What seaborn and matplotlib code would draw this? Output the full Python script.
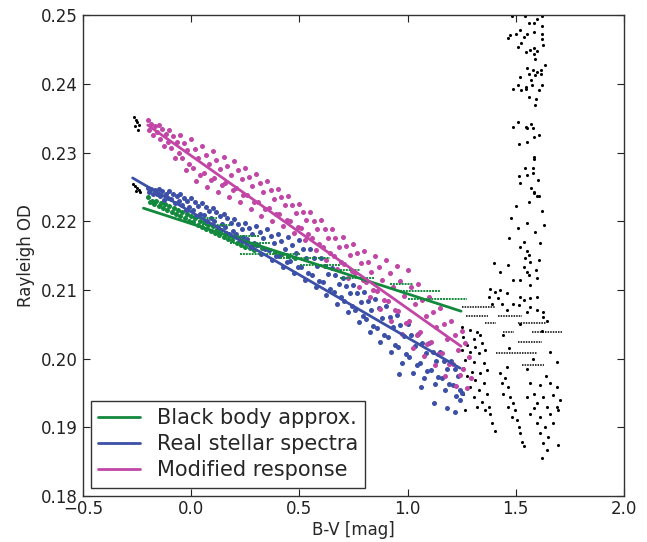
import matplotlib
matplotlib.use("Agg")
import matplotlib.pyplot as plt
import seaborn as sns

# ---- fitted lines (end points) ----
bb_line_x = [-0.22, 1.247]
bb_line_y = [0.2219, 0.2069]
real_line_x = [-0.27, 1.243]
real_line_y = [0.2263, 0.1986]
mod_line_x = [-0.20, 1.247]
mod_line_y = [0.2340, 0.2018]

# ---- x positions shared by the two broad bands ----
band_x = [
    -0.200, -0.192, -0.183, -0.175, -0.167, -0.158,
    -0.150, -0.142, -0.133, -0.125, -0.117, -0.108,
    -0.100, -0.092, -0.083, -0.075, -0.067, -0.058,
    -0.050, -0.042, -0.033, -0.025, -0.017, -0.008,
    0.000, 0.008, 0.017, 0.025, 0.033, 0.042,
    0.050, 0.058, 0.067, 0.075, 0.083, 0.092,
    0.100, 0.108, 0.117, 0.125, 0.133, 0.142,
    0.150, 0.158, 0.167, 0.175, 0.183, 0.192,
    0.200, 0.208, 0.217, 0.225, 0.233, 0.242,
    0.250, 0.258, 0.267, 0.275, 0.283, 0.292,
    0.300, 0.308, 0.317, 0.325, 0.333, 0.342,
    0.350, 0.358, 0.367, 0.375, 0.383, 0.392,
    0.400, 0.408, 0.417, 0.425, 0.433, 0.442,
    0.450, 0.458, 0.467, 0.475, 0.483, 0.492,
    0.500, 0.508, 0.517, 0.525, 0.533, 0.542,
    0.550, 0.558, 0.567, 0.575, 0.583, 0.592,
    0.600, 0.608, 0.617, 0.625, 0.633, 0.642,
    0.650, 0.658, 0.667, 0.675, 0.683, 0.692,
    0.700, 0.708, 0.717, 0.725, 0.733, 0.742,
    0.750, 0.758, 0.767, 0.775, 0.783, 0.792,
    0.800, 0.808, 0.817, 0.825, 0.833, 0.842,
    0.850, 0.858, 0.867, 0.875, 0.883, 0.892,
    0.900, 0.908, 0.917, 0.925, 0.933, 0.942,
    0.950, 0.958, 0.967, 0.975, 0.983, 0.992,
    1.000, 1.008, 1.017, 1.025, 1.033, 1.042,
    1.050, 1.058, 1.067, 1.075, 1.083, 1.092,
    1.100, 1.108, 1.117, 1.125, 1.133, 1.142,
    1.150, 1.158, 1.167, 1.175, 1.183, 1.192,
    1.200, 1.208, 1.217, 1.225, 1.233, 1.242,
    1.250, 1.258, 1.267, 1.275, 1.283, 1.292,
]

# Modified response points
mod_y = [
    .2347, .2333, .2342, .2326, .2338, .2330,
    .2340, .2320, .2334, .2310, .2327, .2315,
    .2333, .2306, .2324, .2292, .2315, .2299,
    .2325, .2292, .2314, .2275, .2303, .2283,
    .2319, .2278, .2305, .2258, .2292, .2268,
    .2310, .2270, .2297, .2250, .2283, .2260,
    .2302, .2263, .2289, .2243, .2276, .2253,
    .2294, .2255, .2281, .2235, .2268, .2245,
    .2287, .2248, .2274, .2228, .2261, .2238,
    .2278, .2238, .2265, .2218, .2251, .2228,
    .2269, .2228, .2255, .2208, .2242, .2218,
    .2258, .2219, .2245, .2200, .2232, .2210,
    .2247, .2211, .2235, .2193, .2223, .2202,
    .2236, .2201, .2224, .2183, .2212, .2192,
    .2225, .2190, .2214, .2173, .2202, .2182,
    .2213, .2176, .2201, .2158, .2189, .2167,
    .2202, .2163, .2189, .2143, .2176, .2153,
    .2189, .2150, .2176, .2131, .2163, .2141,
    .2177, .2138, .2164, .2118, .2151, .2128,
    .2167, .2125, .2153, .2104, .2139, .2114,
    .2156, .2111, .2141, .2089, .2126, .2100,
    .2150, .2098, .2133, .2072, .2115, .2085,
    .2143, .2084, .2124, .2055, .2104, .2070,
    .2135, .2069, .2113, .2036, .2091, .2052,
    .2129, .2054, .2104, .2016, .2079, .2035,
    .2109, .2039, .2086, .2004, .2062, .2021,
    .2090, .2024, .2068, .1991, .2046, .2007,
    .2073, .2008, .2051, .1975, .2029, .1992,
    .2055, .1992, .2034, .1960, .2013, .1976,
    .2040, .1985, .2022, .1957, .2003, .1971,
]

# Real stellar spectra points
real_extra_x = [1.12, 1.18, 1.22, 0.96, 1.06, 1.24, 1.25]
real_extra_y = [.1935, .1928, .1922, .1978, .1958, .1940, .1950]
real_y = [
    .2249, .2242, .2247, .2239, .2245, .2240,
    .2247, .2236, .2244, .2231, .2240, .2234,
    .2244, .2232, .2240, .2226, .2236, .2229,
    .2239, .2224, .2234, .2216, .2229, .2220,
    .2234, .2216, .2228, .2207, .2222, .2211,
    .2227, .2209, .2221, .2200, .2215, .2204,
    .2219, .2201, .2213, .2192, .2207, .2196,
    .2210, .2191, .2204, .2182, .2198, .2186,
    .2203, .2182, .2196, .2172, .2189, .2177,
    .2198, .2174, .2190, .2162, .2182, .2168,
    .2193, .2166, .2184, .2152, .2175, .2159,
    .2188, .2158, .2178, .2143, .2168, .2150,
    .2182, .2149, .2171, .2133, .2160, .2141,
    .2177, .2142, .2165, .2124, .2153, .2133,
    .2172, .2134, .2159, .2115, .2147, .2125,
    .2159, .2122, .2147, .2104, .2135, .2113,
    .2147, .2111, .2135, .2093, .2123, .2102,
    .2132, .2097, .2121, .2080, .2109, .2089,
    .2117, .2084, .2106, .2068, .2095, .2076,
    .2107, .2071, .2095, .2053, .2083, .2062,
    .2097, .2058, .2084, .2038, .2071, .2048,
    .2087, .2045, .2073, .2024, .2059, .2034,
    .2076, .2031, .2061, .2009, .2046, .2020,
    .2064, .2017, .2049, .1994, .2033, .2006,
    .2051, .2003, .2035, .1979, .2019, .1991,
    .2036, .1993, .2022, .1972, .2008, .1982,
    .2022, .1983, .2009, .1963, .1996, .1973,
    .2009, .1972, .1997, .1954, .1985, .1963,
    .1997, .1962, .1985, .1945, .1974, .1954,
]

# Black body approx. points
bb_x = [-0.20, -0.18, -0.16, -0.14, -0.12, -0.10, -0.08, -0.06, -0.04, -0.02,
        0.00, 0.02, 0.04, 0.06, 0.08, 0.10, 0.12, 0.14, 0.16, 0.18, 0.20, 0.22,
        0.24, 0.26, 0.28, 0.30, 0.33, 0.36, 0.39, 0.42, 0.45, 0.48,
        -0.19, -0.17, -0.15, -0.13, -0.11, -0.09, -0.07, -0.05, -0.03, -0.01,
        0.01, 0.03, 0.05, 0.07, 0.09, 0.11, 0.13, 0.15, 0.17, 0.19, 0.21, 0.23,
        0.25, 0.27, 0.29]
bb_y = [.2235, .2230, .2230, .2226, .2225, .2222, .2219, .2217, .2213, .2211,
        .2207, .2205, .2201, .2199, .2195, .2193, .2189, .2187, .2183, .2180,
        .2178, .2175, .2172, .2170, .2166, .2165, .2161, .2158, .2155, .2152,
        .2149, .2146,
        .2228, .2225, .2222, .2219, .2216, .2213, .2211, .2208, .2205, .2201,
        .2199, .2195, .2192, .2189, .2186, .2183, .2180, .2177, .2174, .2172,
        .2169, .2166, .2163, .2161, .2158]
# horizontal runs of green points: level, start, end
bb_run_y = [.2204, .2195, .21784, .21682, .21522, .21463, .21362, .21289,
            .21172, .21085, .20983, .20867]
bb_run_x0 = [0.02, 0.05, 0.157, 0.18, 0.226, 0.411, 0.504, 0.689, 0.689,
             0.92, 0.966, 1.0]
bb_run_x1 = [0.12, 0.18, 0.319, 0.365, 0.504, 0.642, 0.689, 0.781, 0.85,
             1.026, 1.15, 1.275]

# Stars outside the fitted range (black)
other_x = [
    -0.265, -0.255, -0.250, -0.240, -0.260, -0.245, -0.270, -0.260, -0.250, -0.240, -0.255, -0.235,
    1.482, 1.543, 1.620, 1.559, 1.582, 1.600, 1.620, 1.520, 1.502, 1.474, 1.466, 1.536, 1.554,
    1.585, 1.623, 1.623, 1.628, 1.523, 1.508, 1.548, 1.567, 1.582, 1.597, 1.586, 1.591,
    1.633, 1.554, 1.579, 1.597, 1.617, 1.617, 1.559, 1.590, 1.520, 1.571, 1.508, 1.487,
    1.523, 1.545, 1.548, 1.574, 1.620, 1.607, 1.563, 1.594, 1.591,
    1.508, 1.489, 1.547, 1.551, 1.571, 1.579, 1.605, 1.582, 1.554, 1.517, 1.585, 1.585,
    1.543, 1.579, 1.579, 1.554, 1.517, 1.604, 1.520, 1.571, 1.582, 1.586, 1.598, 1.605,
    1.56, 1.50, 1.62, 1.48, 1.55, 1.63, 1.51, 1.59, 1.47, 1.54, 1.61, 1.52,
    1.551, 1.559, 1.543, 1.567, 1.605, 1.400, 1.466, 1.425, 1.536, 1.551, 1.563, 1.594,
    1.600, 1.520, 1.567, 1.489,
    1.382, 1.405, 1.428, 1.459, 1.374, 1.420, 1.520, 1.536, 1.567, 1.598, 1.489, 1.390,
    1.436, 1.567, 1.598, 1.628, 1.459, 1.513, 1.551, 1.628, 1.644,
    1.251, 1.289, 1.320, 1.258, 1.305, 1.336, 1.274, 1.312, 1.343, 1.251, 1.289, 1.328,
    1.359, 1.266, 1.305, 1.351, 1.258, 1.297, 1.336, 1.366, 1.274, 1.312, 1.351, 1.289,
    1.328, 1.366, 1.258, 1.305, 1.343, 1.374, 1.320, 1.359, 1.382, 1.390, 1.405, 1.266,
    1.428, 1.451, 1.436, 1.466, 1.443, 1.474, 1.489, 1.466, 1.497, 1.482, 1.505, 1.513,
    1.520, 1.528, 1.536, 1.459,
    1.567, 1.613, 1.659, 1.690, 1.582, 1.628, 1.674, 1.705, 1.598, 1.644, 1.690, 1.567,
    1.613, 1.659, 1.697, 1.598, 1.636, 1.674, 1.613, 1.651, 1.628, 1.644, 1.621, 1.697,
    1.551, 1.582,
    1.44, 1.52, 1.62, 1.66, 1.58, 1.47, 1.69, 1.55, 1.64,
]
other_y = [
    .2352, .2348, .2344, .2340, .2338, .2333, .2254, .2251, .2249, .2246, .2244, .2243,
    .2499, .2499, .2499, .2488, .2488, .2494, .2484, .2478, .2473, .2471, .2467, .2468, .2473,
    .2475, .2473, .2466, .2456, .2459, .2453, .2446, .2450, .2452, .2448, .2443, .2436,
    .2427, .2423, .2420, .2417, .2420, .2415, .2415, .2413, .2410, .2406, .2398, .2392,
    .2391, .2393, .2395, .2398, .2399, .2391, .2381, .2378, .2369,
    .2345, .2337, .2337, .2335, .2342, .2336, .2326, .2322, .2316, .2312, .2294, .2290,
    .2277, .2277, .2270, .2267, .2266, .2260, .2256, .2248, .2243, .2241, .2236, .2236,
    .2228, .2222, .2215, .2205, .2198, .2195, .2190, .2185, .2176, .2170, .2168, .2162,
    .2156, .2151, .2146, .2141, .2143, .2139, .2136, .2126, .2134, .2126, .2122, .2129,
    .2117, .2114, .2107, .2114,
    .2102, .2097, .2100, .2095, .2090, .2088, .2090, .2085, .2088, .2090, .2080, .2080,
    .2080, .2075, .2071, .2068, .2071, .2078, .2068, .2061, .2054,
    .2046, .2042, .2039, .2032, .2029, .2034, .2020, .2017, .2022, .2012, .2010, .2008,
    .2012, .1998, .1995, .1993, .1986, .1981, .1979, .1983, .1974, .1969, .1964, .1959,
    .1954, .1949, .1949, .1944, .1937, .1930, .1930, .1925, .1920, .1906, .1894, .1925,
    .1979, .1971, .1964, .1959, .1949, .1944, .1935, .1930, .1925, .1915, .1911, .1901,
    .1891, .1879, .1872, .1988,
    .1964, .1962, .1964, .1959, .1949, .1944, .1947, .1940, .1935, .1930, .1930, .1920,
    .1915, .1920, .1925, .1906, .1901, .1906, .1891, .1886, .1877, .1867, .1855, .1874,
    .1944, .1928,
    .2035, .2050, .2040, .2010, .2000, .2015, .1995, .1985, .1975,
]
# horizontal runs of black points: level, start, end
other_run_y = [.20746, .20624, .20624, .20522, .20522, .20391, .20391, .20245, .20085, .19906]
other_run_x0 = [1.25, 1.27, 1.42, 1.36, 1.51, 1.44, 1.575, 1.51, 1.41, 1.53]
other_run_x1 = [1.405, 1.37, 1.53, 1.41, 1.64, 1.49, 1.715, 1.62, 1.60, 1.63]

green = "#12893c"
blue = "#3b50a6"
magenta = "#c146a5"

sns.set_style("ticks")
plt.rcParams["font.family"] = ["DejaVu Sans"]

fig, ax = plt.subplots(figsize=(6.47, 5.42), dpi=100)
fig.subplots_adjust(left=0.128, right=0.9645, bottom=0.085, top=0.972)

dot = dict(s=13, linewidth=0, legend=False, ax=ax)
sns.scatterplot(x=other_x, y=other_y, color="black", s=5, linewidth=0, legend=False, ax=ax)
ax.hlines(other_run_y, other_run_x0, other_run_x1, color="black", lw=1.1,
          linestyles=(0, (1, 0.7)))
sns.scatterplot(x=bb_x, y=bb_y, color=green, **dot)
ax.hlines(bb_run_y, bb_run_x0, bb_run_x1, color=green, lw=1.4,
          linestyles=(0, (1, 0.5)))
sns.scatterplot(x=band_x[:len(real_y)] + real_extra_x, y=real_y + real_extra_y,
                color=blue, **dot)
sns.scatterplot(x=band_x, y=mod_y, color=magenta, **dot)

sns.lineplot(x=bb_line_x, y=bb_line_y, color=green, lw=2, label="Black body approx.", ax=ax)
sns.lineplot(x=real_line_x, y=real_line_y, color=blue, lw=2, label="Real stellar spectra", ax=ax)
sns.lineplot(x=mod_line_x, y=mod_line_y, color=magenta, lw=2, label="Modified response", ax=ax)

ax.set_xlim(-0.5, 2.0)
ax.set_ylim(0.18, 0.25)
ax.set_xticks([-0.5, 0.0, 0.5, 1.0, 1.5, 2.0])
ax.set_xticklabels(["\u22120.5", "0.0", "0.5", "1.0", "1.5", "2.0"])
yt = [0.18, 0.19, 0.20, 0.21, 0.22, 0.23, 0.24, 0.25]
ax.set_yticks(yt)
ax.set_yticklabels([f"{v:.2f}" for v in yt])
ax.tick_params(direction="in", top=True, right=True, length=5, width=0.8,
               labelsize=12, colors="#222222")
ax.tick_params(axis="x", pad=3)
for sp in ax.spines.values():
    sp.set_linewidth(1.0)
    sp.set_color("#333333")
ax.set_xlabel("B-V [mag]", fontsize=12, labelpad=2)
ax.set_ylabel("Rayleigh OD", fontsize=12)

leg = ax.legend(loc="lower left", fontsize=15, fancybox=False, framealpha=1,
                edgecolor="#333333", handlelength=2.0, borderpad=0.35,
                labelspacing=0.3, borderaxespad=0.4)
leg.get_frame().set_linewidth(1.0)

fig.savefig("out.png", dpi=100)
